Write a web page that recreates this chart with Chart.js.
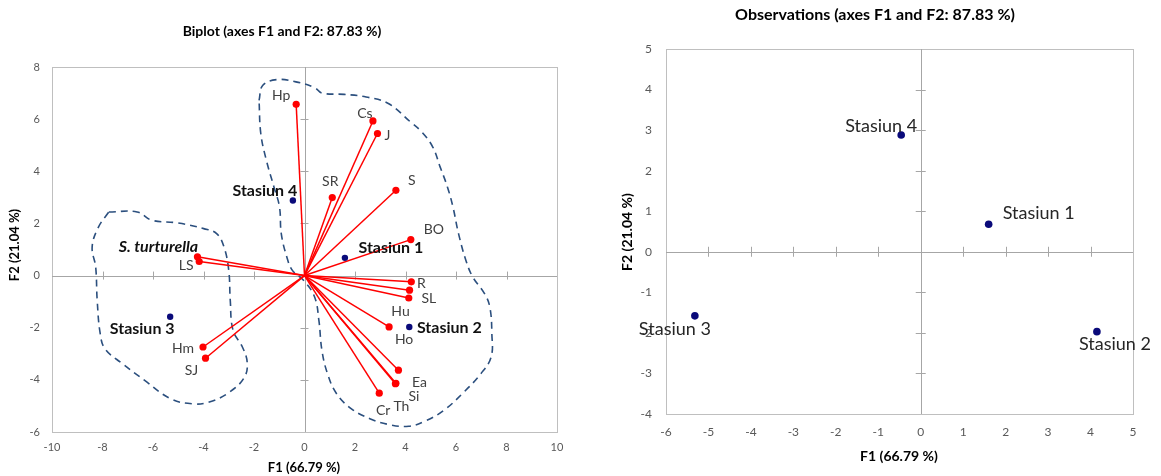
<!DOCTYPE html>
<html>
<head>
<meta charset="utf-8">
<title>Biplot and observations (F1 / F2)</title>
<script src="https://cdn.jsdelivr.net/npm/chart.js@4.4.1/dist/chart.umd.min.js"></script>
<style>
	html, body { margin: 0; padding: 0; background: #fff; }
	#wrap { position: relative; width: 1161px; height: 476px; overflow: hidden; }
	#wrap canvas { position: absolute; top: 0; }
	#biplot { left: 0; }
	#obs { left: 580px; }
</style>
</head>
<body>
<div id="wrap">
	<canvas id="biplot" width="580" height="476"></canvas>
	<canvas id="obs" width="581" height="476"></canvas>
</div>
<script>
"use strict";

// Variables (red vectors)

var varNames = ["Hp", "Cs", "J", "SR", "S", "BO", "S. turturella", "LS", "R", "Hu",
	"SL", "Ho", "Ea", "Si", "Th", "Cr", "Hm", "SJ"];
var varF1 = [-0.33, 2.71, 2.89, 1.10, 3.62, 4.21, -4.24, -4.17, 4.23, 4.16,
	4.13, 3.35, 3.72, 3.62, 3.60, 2.96, -4.02, -3.92];
var varF2 = [6.57, 5.93, 5.45, 2.99, 3.27, 1.38, 0.72, 0.54, -0.24, -0.56,
	-0.86, -1.97, -3.63, -4.13, -4.15, -4.51, -2.74, -3.17];

// Observations (stations)

var obsNames = ["Stasiun 1", "Stasiun 2", "Stasiun 3", "Stasiun 4"];
var obsF1 = [1.60, 4.15, -5.32, -0.46];
var obsF2 = [0.68, -1.97, -1.58, 2.88];

// Hand drawn group outlines in F1/F2 units

var groupRightF1 = [-1.80, -1.65, -1.07, -0.34, 0.40, 0.69, 1.57, 2.44, 3.32, 4.20, 4.64,
	5.08, 5.37, 5.66, 5.88, 6.10, 6.39, 6.66, 7.13, 7.34, 7.42, 7.39, 6.98, 6.25, 5.52,
	4.78, 4.13, 3.32, 2.59, 1.86, 1.27, 0.91, 0.69, 0.57, 0.40, -0.04, -0.48, -0.70,
	-0.92, -0.99, -1.21, -1.51, -1.73, -1.80];
var groupRightF2 = [6.72, 7.30, 7.52, 7.43, 7.21, 7.00, 6.95, 6.85, 6.60, 5.89, 5.51,
	4.93, 4.17, 3.40, 2.63, 1.61, 0.59, -0.05, -0.69, -1.21, -2.23, -3.13, -3.77, -4.53,
	-5.17, -5.58, -5.78, -5.71, -5.49, -5.11, -4.53, -3.76, -2.87, -1.72, -0.82, -0.18,
	0.20, 0.71, 1.61, 2.63, 3.40, 4.42, 5.44, 6.72];
var groupLeftF1 = [-7.75, -6.63, -6.04, -5.02, -3.99, -3.48, -3.19, -3.00, -2.94, -2.83,
	-2.46, -2.27, -2.38, -2.97, -3.77, -4.43, -5.31, -6.33, -7.21, -7.90, -8.09, -8.21,
	-8.27, -8.41, -8.16, -7.75];
var groupLeftF2 = [2.44, 2.44, 2.12, 2.02, 1.80, 1.61, 1.10, 0.20, -0.95, -2.10,
	-2.74, -3.32, -3.90, -4.47, -4.85, -4.92, -4.72, -4.02, -3.38, -2.81, -2.23, -0.95,
	0.33, 1.10, 1.86, 2.44];

// Axis texts

var biplotTitle = "Biplot (axes F1 and F2: 87.83 %)";
var obsTitle = "Observations (axes F1 and F2: 87.83 %)";
var f1Title = "F1 (66.79 %)";
var f2Title = "F2 (21.04 %)";

// Label nudges in px (label centre relative to its point)

var VAR_NUDGE = {
	"Hp": [-15, -9], "Cs": [-8, -7], "J": [10, 2], "SR": [-2, -16], "S": [16, -10],
	"BO": [23, -10], "S. turturella": [-39, -10], "LS": [-13, 4], "R": [10, 2],
	"Hu": [-9, 21], "SL": [20, 0], "Ho": [15, 13], "Ea": [21, 12], "Si": [18, 13],
	"Th": [6, 23], "Cr": [4, 17], "Hm": [-20, 1], "SJ": [-14, 12]
};
var BIPLOT_OBS_NUDGE = [[46, -10], [40, 1], [-28, 12], [-28, -10]];
var OBS_NUDGE = [[50, -11], [18, 13], [-20, 13], [-20, -9]];

var RED = "#ff0000",
	NAVY = "#0a0a7a",
	OUTLINE = "#2b4f7e",
	FRAME = "#bfbfbf",
	ZERO_AXIS = "#a6a6a6",
	FONT = "Lato, 'Open Sans', sans-serif";

Chart.defaults.font.family = FONT;
Chart.defaults.color = "#595959";

function zip(xs, ys) {
	var pts = [];

	for (var i = 0; i < xs.length; i++) {
		pts.push({ x: xs[i], y: ys[i] });
	}
	return pts;
}

// frame, zero axes with cross ticks, titles and point labels
var decorPlugin = {
	id: "decor",
	beforeDatasetsDraw: function (chart, args, opts) {
		var ctx = chart.ctx, a = chart.chartArea,
			sx = chart.scales.x, sy = chart.scales.y,
			x0 = sx.getPixelForValue(0), y0 = sy.getPixelForValue(0), v, p;

		ctx.save();
		ctx.lineWidth = 1;
		ctx.strokeStyle = FRAME;
		ctx.strokeRect(a.left + 0.5, a.top + 0.5, a.width, a.height);
		ctx.strokeStyle = ZERO_AXIS;
		ctx.beginPath();
		ctx.moveTo(a.left, Math.round(y0) + 0.5);
		ctx.lineTo(a.right, Math.round(y0) + 0.5);
		ctx.moveTo(Math.round(x0) + 0.5, a.top);
		ctx.lineTo(Math.round(x0) + 0.5, a.bottom);
		for (v = sx.min + opts.step; v < sx.max; v += opts.step) {
			if (Math.abs(v) < 1e-9) continue;
			p = Math.round(sx.getPixelForValue(v)) + 0.5;
			ctx.moveTo(p, y0 - opts.tick);
			ctx.lineTo(p, y0 + opts.tick);
		}
		for (v = sy.min + opts.stepY; v < sy.max; v += opts.stepY) {
			if (Math.abs(v) < 1e-9) continue;
			p = Math.round(sy.getPixelForValue(v)) + 0.5;
			ctx.moveTo(x0 - opts.tick, p);
			ctx.lineTo(x0 + opts.tick, p);
		}
		ctx.stroke();
		ctx.restore();
	},
	afterDatasetsDraw: function (chart, args, opts) {
		var ctx = chart.ctx, sx = chart.scales.x, sy = chart.scales.y, i, n;

		ctx.save();
		ctx.textAlign = "center";
		ctx.textBaseline = "middle";
		ctx.fillStyle = "#000";
		ctx.font = "bold " + opts.titleSize + "px " + FONT;
		ctx.fillText(opts.title, opts.titleX, opts.titleY);
		ctx.font = "bold " + opts.axisSize + "px " + FONT;
		ctx.fillText(f1Title, opts.f1X, opts.f1Y);
		ctx.save();
		ctx.translate(opts.f2X, opts.f2Y);
		ctx.rotate(-Math.PI / 2);
		ctx.fillText(f2Title, 0, 0);
		ctx.restore();

		if (opts.showVars) {
			for (i = 0; i < varNames.length; i++) {
				n = VAR_NUDGE[varNames[i]] || [0, -12];
				if (varNames[i] === "S. turturella") {
					ctx.font = "italic bold 16px " + FONT;
					ctx.fillStyle = "#111";
				}
				else {
					ctx.font = "14px " + FONT;
					ctx.fillStyle = "#404040";
				}
				ctx.fillText(varNames[i], sx.getPixelForValue(varF1[i]) + n[0],
					sy.getPixelForValue(varF2[i]) + n[1]);
			}
		}
		ctx.font = opts.obsFont;
		ctx.fillStyle = opts.obsColor;
		for (i = 0; i < obsNames.length; i++) {
			n = opts.obsNudge[i];
			ctx.fillText(obsNames[i], sx.getPixelForValue(obsF1[i]) + n[0],
				sy.getPixelForValue(obsF2[i]) + n[1]);
		}
		ctx.restore();
	}
};

function axis(min, max, step, pad, fit, size) {
	return {
		type: "linear",
		min: min,
		max: max,
		grid: { display: false, drawTicks: false },
		border: { display: false },
		ticks: { stepSize: step, padding: pad, font: { size: size }, color: "#595959" },
		afterFit: fit
	};
}

// Biplot

var biplotSets = [];

biplotSets.push({
	label: "Observations",
	data: zip(obsF1, obsF2),
	showLine: false,
	pointRadius: 3.2,
	pointBackgroundColor: NAVY,
	pointBorderWidth: 0
});
for (var i = 0; i < varNames.length; i++) {
	biplotSets.push({
		label: varNames[i],
		data: [{ x: 0, y: 0 }, { x: varF1[i], y: varF2[i] }],
		showLine: true,
		borderColor: RED,
		borderWidth: 1.5,
		pointRadius: [0, 3.6],
		pointBackgroundColor: RED,
		pointBorderWidth: 0
	});
}
[[groupRightF1, groupRightF2], [groupLeftF1, groupLeftF2]].forEach(function (g) {
	biplotSets.push({
		label: "group",
		data: zip(g[0], g[1]),
		showLine: true,
		tension: 0.4,
		borderColor: OUTLINE,
		borderWidth: 1.6,
		borderDash: [7, 5],
		pointRadius: 0,
		fill: false
	});
});

new Chart(document.getElementById("biplot"), {
	type: "scatter",
	data: { datasets: biplotSets },
	plugins: [decorPlugin],
	options: {
		responsive: false,
		animation: false,
		events: [],
		layout: { padding: { top: 67, right: 23, left: 0, bottom: 0 } },
		scales: {
			x: axis(-10, 10, 2, 9, function (s) { s.height = 44; }, 11),
			y: axis(-6, 8, 2, 12, function (s) { s.width = 52; }, 11)
		},
		plugins: {
			legend: { display: false },
			tooltip: { enabled: false },
			decor: {
				step: 2, stepY: 2, tick: 4,
				title: biplotTitle, titleSize: 14, titleX: 282, titleY: 31,
				axisSize: 13, f1X: 304, f1Y: 468, f2X: 15, f2Y: 245,
				showVars: true,
				obsFont: "bold 16px " + FONT, obsColor: "#111", obsNudge: BIPLOT_OBS_NUDGE
			}
		}
	}
});

// Observations

new Chart(document.getElementById("obs"), {
	type: "scatter",
	data: {
		datasets: [{
			label: "Observations",
			data: zip(obsF1, obsF2),
			pointRadius: 3.8,
			pointBackgroundColor: NAVY,
			pointBorderWidth: 0
		}]
	},
	plugins: [decorPlugin],
	options: {
		responsive: false,
		animation: false,
		events: [],
		layout: { padding: { top: 49, right: 28, left: 0, bottom: 0 } },
		scales: {
			x: axis(-6, 5, 1, 11, function (s) { s.height = 62; }, 12),
			y: axis(-4, 5, 1, 14, function (s) { s.width = 86; }, 12)
		},
		plugins: {
			legend: { display: false },
			tooltip: { enabled: false },
			decor: {
				step: 1, stepY: 1, tick: 5,
				title: obsTitle, titleSize: 16, titleX: 295, titleY: 15,
				axisSize: 14, f1X: 319, f1Y: 456, f2X: 47, f2Y: 232,
				showVars: false,
				obsFont: "18px " + FONT, obsColor: "#262626", obsNudge: OBS_NUDGE
			}
		}
	}
});
</script>
</body>
</html>
